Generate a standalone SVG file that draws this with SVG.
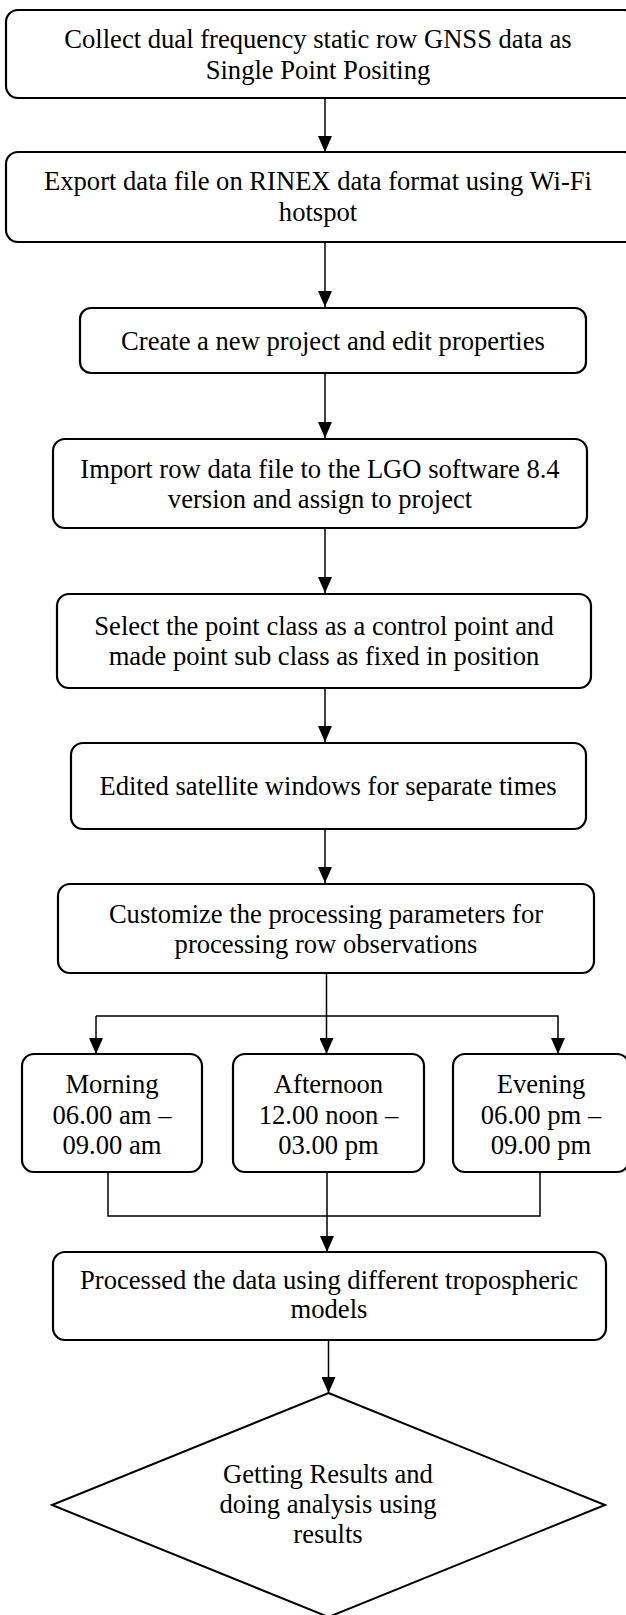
<svg xmlns="http://www.w3.org/2000/svg" width="626" height="1615" viewBox="0 0 626 1615">
<style>
.box{fill:#fff;stroke:#000;stroke-width:2.2}
.dia{fill:#fff;stroke:#000;stroke-width:2}
.t{font-family:"Liberation Serif","Times New Roman",serif;font-size:26.6px;fill:#000;text-anchor:middle}
.c{fill:none;stroke:#000;stroke-width:1.5}
</style>
<defs>
<marker id="ah" markerUnits="userSpaceOnUse" viewBox="0 0 16 14" refX="16" refY="7" markerWidth="16" markerHeight="14" orient="auto">
<path d="M0,0 L16,7 L0,14 z" fill="#000"/>
</marker>
</defs>
<rect width="626" height="1615" fill="#fff"/>
<g id="connectors">
<line class="c" x1="325" y1="98" x2="325" y2="152" marker-end="url(#ah)"/>
<line class="c" x1="325" y1="242" x2="325" y2="307" marker-end="url(#ah)"/>
<line class="c" x1="325" y1="373" x2="325" y2="438" marker-end="url(#ah)"/>
<line class="c" x1="325" y1="528" x2="325" y2="593" marker-end="url(#ah)"/>
<line class="c" x1="325" y1="688" x2="325" y2="742" marker-end="url(#ah)"/>
<line class="c" x1="325" y1="829" x2="325" y2="883" marker-end="url(#ah)"/>
<line class="c" x1="326.5" y1="973" x2="326.5" y2="1054" marker-end="url(#ah)"/>
<polyline class="c" points="96,1016 558,1016 558,1054" marker-end="url(#ah)"/>
<line class="c" x1="96" y1="1016" x2="96" y2="1054" marker-end="url(#ah)"/>
<polyline class="c" points="108,1172 108,1216 540,1216 540,1172"/>
<line class="c" x1="327" y1="1172" x2="327" y2="1252" marker-end="url(#ah)"/>
<line class="c" x1="328.5" y1="1340" x2="328.5" y2="1393" marker-end="url(#ah)"/>
</g>
<g id="n1">
<rect class="box" x="6" y="10" width="630" height="88" rx="12"/>
<text class="t" x="318" y="48">Collect dual frequency static row GNSS data as</text>
<text class="t" x="318" y="79">Single Point Positing</text>
</g>
<g id="n2">
<rect class="box" x="6" y="152" width="630" height="90" rx="12"/>
<text class="t" x="318" y="190">Export data file on RINEX data format using Wi-Fi</text>
<text class="t" x="318" y="221">hotspot</text>
</g>
<g id="n3">
<rect class="box" x="80" y="308" width="506" height="65" rx="11"/>
<text class="t" x="333" y="350">Create a new project and edit properties</text>
</g>
<g id="n4">
<rect class="box" x="53" y="439" width="534" height="89" rx="12"/>
<text class="t" x="320" y="478">Import row data file to the LGO software 8.4</text>
<text class="t" x="320" y="508">version and assign to project</text>
</g>
<g id="n5">
<rect class="box" x="57" y="594" width="534" height="94" rx="12"/>
<text class="t" x="324" y="635">Select the point class as a control point and</text>
<text class="t" x="324" y="665">made point sub class as fixed in position</text>
</g>
<g id="n6">
<rect class="box" x="71" y="743" width="515" height="86" rx="12"/>
<text class="t" x="328" y="795">Edited satellite windows for separate times</text>
</g>
<g id="n7">
<rect class="box" x="58" y="884" width="536" height="89" rx="12"/>
<text class="t" x="326" y="923">Customize the processing parameters for</text>
<text class="t" x="326" y="953">processing row observations</text>
</g>
<g id="n8">
<rect class="box" x="22" y="1054" width="180" height="118" rx="12"/>
<text class="t" x="112" y="1093">Morning</text>
<text class="t" x="112" y="1124">06.00 am –</text>
<text class="t" x="112" y="1154">09.00 am</text>
</g>
<g id="n9">
<rect class="box" x="233" y="1054" width="191" height="118" rx="12"/>
<text class="t" x="328.5" y="1093">Afternoon</text>
<text class="t" x="328.5" y="1124">12.00 noon –</text>
<text class="t" x="328.5" y="1154">03.00 pm</text>
</g>
<g id="n10">
<rect class="box" x="453" y="1054" width="176" height="118" rx="12"/>
<text class="t" x="541" y="1093">Evening</text>
<text class="t" x="541" y="1124">06.00 pm –</text>
<text class="t" x="541" y="1154">09.00 pm</text>
</g>
<g id="n11">
<rect class="box" x="53" y="1252" width="553" height="88" rx="12"/>
<text class="t" x="329" y="1289">Processed the data using different tropospheric</text>
<text class="t" x="329" y="1318">models</text>
</g>
<g id="n12">
<polygon class="dia" points="328.5,1393 605,1505 328.5,1617 52,1505"/>
<text class="t" x="328" y="1483">Getting Results and</text>
<text class="t" x="328" y="1513">doing analysis using</text>
<text class="t" x="328" y="1543">results</text>
</g>
</svg>
